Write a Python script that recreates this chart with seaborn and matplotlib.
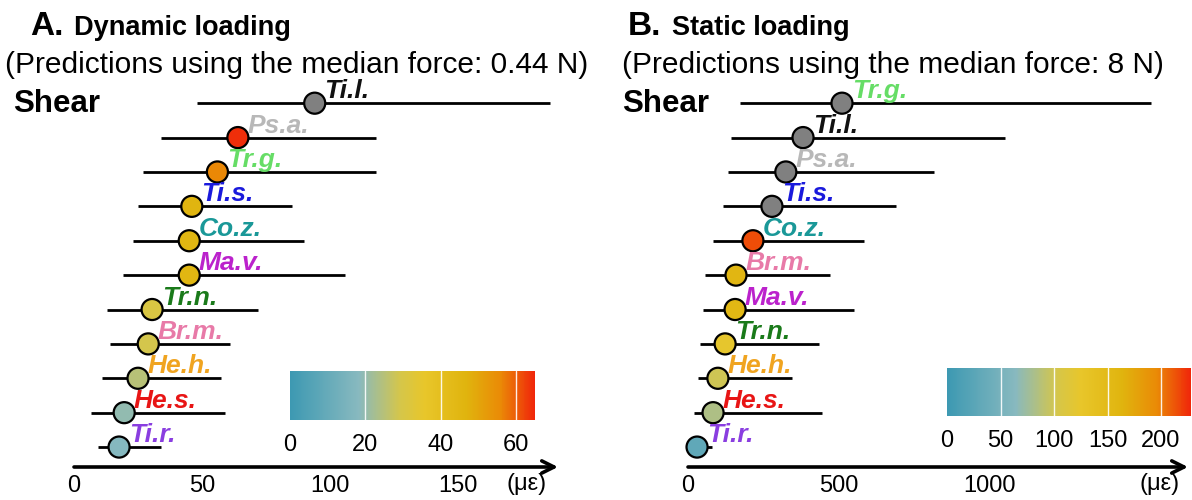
import numpy as np
import pandas as pd
import matplotlib
matplotlib.use("Agg")
import matplotlib.pyplot as plt
from matplotlib.colors import LinearSegmentedColormap, Normalize
from matplotlib.cm import ScalarMappable
import seaborn as sns

# ---------------- data ----------------
species_A = ['Ti.l.', 'Ps.a.', 'Tr.g.', 'Ti.s.', 'Co.z.', 'Ma.v.', 'Tr.n.', 'Br.m.', 'He.h.', 'He.s.', 'Ti.r.']
median_A = [94, 64, 56, 46, 45, 45, 30.5, 29, 25, 19.6, 17.6]
low_A = [48, 34, 27, 25, 23, 19, 13, 14, 11, 6.7, 9.4]
high_A = [186, 118, 118, 85, 90, 106, 72, 61, 57.5, 59, 34]

species_B = ['Tr.g.', 'Ti.l.', 'Ps.a.', 'Ti.s.', 'Co.z.', 'Br.m.', 'Ma.v.', 'Tr.n.', 'He.h.', 'He.s.', 'Ti.r.']
median_B = [510, 381, 324, 278, 215, 159, 156, 123, 99, 83, 30]
low_B = [172, 142, 132, 116, 83, 56, 50, 40, 33, 20, 7]
high_B = [1533, 1050, 815, 689, 583, 470, 550, 434, 344, 444, 79]

ticks_A = [0, 50, 100, 150]
ticks_B = [0, 500, 1000]
cbar_ticks_A = [0, 20, 40, 60]
cbar_ticks_B = [0, 50, 100, 150, 200]

label_colors = {
    'Ti.l.': '#111111', 'Ps.a.': '#b8b8b8', 'Tr.g.': '#66dd66', 'Ti.s.': '#1a1adc',
    'Co.z.': '#1a9898', 'Ma.v.': '#bb22cc', 'Tr.n.': '#1a7a1a', 'Br.m.': '#e87aa8',
    'He.h.': '#f0a420', 'He.s.': '#e81515', 'Ti.r.': '#8a3ee0',
}

# ---------------- style ----------------
sns.set_style("white")
plt.rcParams['font.family'] = ['Liberation Sans', 'DejaVu Sans']
plt.rcParams['text.color'] = 'black'
plt.rcParams['xtick.color'] = 'black'
plt.rcParams['xtick.labelcolor'] = 'black'

cmap = LinearSegmentedColormap.from_list("strain", [
    (0.0, '#3d99b2'), (0.28, '#88b9bf'), (0.45, '#d5c64a'), (0.55, '#e8c62a'),
    (0.72, '#e0b40e'), (0.86, '#ea8a06'), (1.0, '#f0260a')])
cmap.set_over('#808080')

W, H = 1192, 500
fig = plt.figure(figsize=(W / 100, H / 100), dpi=100)


def fx(x):
    return x / W


def fy(y):
    return 1 - y / H


def panel(ax_rect, species, med, lo, hi, xmax, vmax, ticks, cax_rect, cticks):
    ax = fig.add_axes(ax_rect)
    n = len(species)
    rows = list(range(n - 1, -1, -1))
    df = pd.DataFrame({'species': species, 'median': med, 'low': lo, 'high': hi, 'row': rows})
    norm = Normalize(0, vmax)
    pal = {s: cmap(norm(v)) if v <= vmax else '#808080' for s, v in zip(species, med)}
    ax.hlines(df['row'], df['low'], df['high'], color='black', lw=2.0, zorder=2, clip_on=False)
    sns.scatterplot(data=df, x='median', y='row', hue='species', palette=pal, s=230,
                    edgecolor='black', linewidth=1.6, legend=False, ax=ax, zorder=3)
    for c in ax.collections:
        c.set_clip_on(False)
    for s, v, r in zip(species, med, rows):
        ax.annotate(s, (v, r), xytext=(7, 3.5), textcoords='offset points',
                    fontsize=19, fontweight='bold', fontstyle='italic',
                    color=label_colors[s], ha='left', va='baseline', zorder=4)
    ax.set_xlim(0, xmax)
    ax.set_ylim(-0.58, 10.5)
    for sp in ['top', 'right', 'left', 'bottom']:
        ax.spines[sp].set_visible(False)
    ax.set_yticks([])
    ax.set_xticks(ticks)
    ax.tick_params(axis='x', direction='out', length=5, width=2, pad=1, labelsize=17,
                   colors='black')
    ax.set_xlabel('')
    ax.set_ylabel('')
    ax.annotate('', xy=(1.0, 0), xytext=(0, 0), xycoords='axes fraction',
                arrowprops=dict(arrowstyle='->', lw=2.6, color='black', mutation_scale=22,
                                shrinkA=0, shrinkB=0), annotation_clip=False)
    # colorbar
    cax = fig.add_axes(cax_rect)
    cb = fig.colorbar(ScalarMappable(norm=norm, cmap=cmap), cax=cax, orientation='horizontal',
                      ticks=cticks)
    cb.outline.set_visible(False)
    cax.tick_params(axis='x', length=0, labelsize=17, pad=10, colors='black')
    for t in cticks[1:]:
        cax.axvline(t, color='white', lw=1.0, alpha=0.9)
    return ax


axA = panel([fx(74), 33 / H, (558 - 74) / W, 381 / H], species_A, median_A, low_A, high_A,
            189, 65, ticks_A, [fx(290), 80 / H, 245 / W, 49 / H], cbar_ticks_A)
axB = panel([fx(688), 33 / H, (1188 - 688) / W, 381 / H], species_B, median_B, low_B, high_B,
            1656, 228, ticks_B, [fx(947), 84 / H, 244 / W, 48 / H], cbar_ticks_B)

# unit labels
fig.text(fx(527), fy(484), '(\u03bc\u03b5)', fontsize=17, ha='center', va='center')
fig.text(fx(1160), fy(484), '(\u03bc\u03b5)', fontsize=17, ha='center', va='center')

# titles
fig.text(fx(30), fy(35), 'A.', fontsize=24, fontweight='bold', ha='left', va='baseline')
fig.text(fx(74), fy(35), 'Dynamic loading', fontsize=19.5, fontweight='bold', ha='left', va='baseline')
fig.text(fx(5), fy(73), '(Predictions using the median force: 0.44 N)', fontsize=21.5, ha='left', va='baseline')
fig.text(fx(13), fy(112), 'Shear', fontsize=22.5, fontweight='bold', ha='left', va='baseline')

fig.text(fx(628), fy(35), 'B.', fontsize=24, fontweight='bold', ha='left', va='baseline')
fig.text(fx(672), fy(35), 'Static loading', fontsize=19.5, fontweight='bold', ha='left', va='baseline')
fig.text(fx(622), fy(73), '(Predictions using the median force: 8 N)', fontsize=21.5, ha='left', va='baseline')
fig.text(fx(622), fy(112), 'Shear', fontsize=22.5, fontweight='bold', ha='left', va='baseline')

fig.savefig('out.png', dpi=100)
